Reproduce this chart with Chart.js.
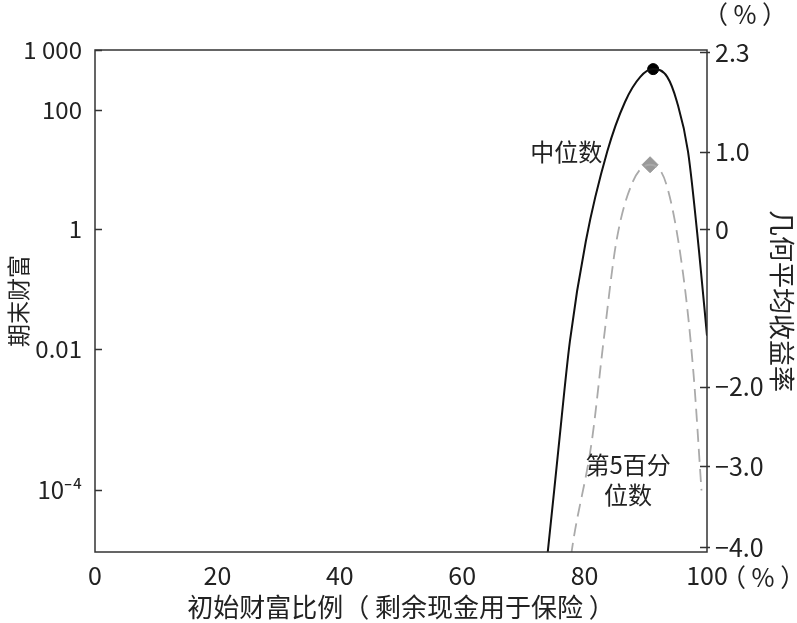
<!DOCTYPE html>
<html>
<head>
<meta charset="utf-8">
<script src="https://cdn.jsdelivr.net/npm/chart.js@4.4.0/dist/chart.umd.min.js"></script>
<style>
html, body { margin: 0; padding: 0; background: #fff; }
</style>
</head>
<body>
<canvas id="chart" width="797" height="623"></canvas>
<script>
// share of initial wealth kept (x, %) and log10 of terminal wealth
const median_x   = [73.5, 74.0, 75.7, 77.6, 80.2, 83.7, 86.6, 89.1, 91.2, 93.5, 95.1, 96.9, 98.7, 100];
const median_log = [-5.8, -5.38, -3.7, -1.87, -0.2, 1.3, 2.13, 2.55, 2.68, 2.55, 2.13, 1.3, -0.37, -1.78];
const p5_x   = [77.4, 77.9, 81.2, 83.1, 85.2, 87.9, 90.7, 93.4, 96.1, 97.8, 99.1];
const p5_log = [-5.8, -5.38, -3.53, -1.87, -0.2, 0.8, 1.08, 0.74, -0.75, -2.42, -4.37];
// peaks
const median_peak = [91.2, 2.68];
const p5_peak = [90.7, 1.08];

// left axis ticks (10^-4 sits lower in the original, kept where it is drawn)
const left_tick_values = [1000, 100, 1, 0.01, 4.3e-5];
const left_tick_labels = ['1 000', '100', '1', '0.01', '10⁻⁴'];
// right axis: geometric mean return over the horizon
const ret_ticks = [2.3, 1.0, 0, -2.0, -3.0, -4.0];
const ret_labels = ['2.3', '1.0', '0', '−2.0', '−3.0', '−4.0'];
const horizon_years = 300;

const x_ticks = [0, 20, 40, 60, 80, 100];

const FONT = '"Noto Sans CJK SC", "Noto Sans", sans-serif';
const y_min = Math.pow(10, -5.4);
const y_max = 1000;

const toPoints = (xs, logs) => xs.map((x, i) => ({x: x, y: Math.pow(10, logs[i])}));

// extra drawing: frame, inward ticks, text notes
const extras = {
  id: 'extras',
  afterDraw(chart) {
    const {ctx, chartArea: a, scales} = chart;
    ctx.save();
    ctx.strokeStyle = '#333';
    ctx.lineWidth = 1.5;
    ctx.strokeRect(a.left, a.top, a.right - a.left, a.bottom - a.top);
    ctx.beginPath();
    scales.y.ticks.forEach(t => {
      const py = Math.round(scales.y.getPixelForValue(t.value)) + 0.5;
      ctx.moveTo(a.left, py); ctx.lineTo(a.left + 7, py);
    });
    scales.y2.ticks.forEach(t => {
      const py = Math.round(scales.y2.getPixelForValue(t.value)) + 0.5;
      ctx.moveTo(a.right - 7, py); ctx.lineTo(a.right + 3, py);
    });
    ctx.stroke();

    ctx.fillStyle = '#222';
    ctx.textAlign = 'center';
    ctx.textBaseline = 'middle';
    ctx.font = '24px ' + FONT;
    const at = (x, lg) => [scales.x.getPixelForValue(x), scales.y.getPixelForValue(Math.pow(10, lg))];
    let p = at(77.0, 1.3);
    ctx.fillText('中位数', p[0], p[1]);
    p = at(87.1, -3.95);
    ctx.fillText('第5百分', p[0], p[1]);
    p = at(87.1, -4.45);
    ctx.fillText('位数', p[0], p[1]);
    ctx.font = '25px ' + FONT;
    ctx.fillText('（ % ）', 745, 14);
    ctx.textAlign = 'left';
    ctx.fillText('（ % ）', 721, scales.x.top + 25);
    ctx.restore();
  }
};

new Chart(document.getElementById('chart'), {
  type: 'line',
  data: {
    datasets: [
      {
        label: '中位数',
        data: toPoints(median_x, median_log),
        borderColor: '#111',
        borderWidth: 2,
        pointRadius: 0,
        cubicInterpolationMode: 'monotone',
        yAxisID: 'y'
      },
      {
        label: '第5百分位数',
        data: toPoints(p5_x, p5_log),
        borderColor: '#aaa',
        borderWidth: 1.8,
        borderDash: [13, 7],
        pointRadius: 0,
        cubicInterpolationMode: 'monotone',
        yAxisID: 'y'
      },
      {
        type: 'scatter',
        data: [{x: median_peak[0], y: Math.pow(10, median_peak[1])}],
        pointStyle: 'circle',
        pointRadius: 5.5,
        backgroundColor: '#000',
        borderColor: '#000',
        yAxisID: 'y'
      },
      {
        type: 'scatter',
        data: [{x: p5_peak[0], y: Math.pow(10, p5_peak[1])}],
        pointStyle: 'rectRot',
        pointRadius: 8,
        backgroundColor: '#999',
        borderColor: '#999',
        yAxisID: 'y'
      }
    ]
  },
  options: {
    responsive: false,
    animation: false,
    devicePixelRatio: 1,
    layout: {padding: {top: 50, left: 0, right: 0, bottom: 0}},
    plugins: {legend: {display: false}, tooltip: {enabled: false}},
    scales: {
      x: {
        type: 'linear',
        min: 0,
        max: 100,
        afterBuildTicks: s => { s.ticks = x_ticks.map(v => ({value: v})); },
        ticks: {font: {family: FONT, size: 25}, color: '#222', padding: 8, maxRotation: 0},
        grid: {display: false, drawTicks: false},
        border: {display: false},
        title: {display: true, text: '初始财富比例（ 剩余现金用于保险 ）', font: {family: FONT, size: 26}, color: '#222', padding: {top: 0, bottom: 0}},
        afterFit: s => { s.height = 71; }
      },
      y: {
        type: 'logarithmic',
        position: 'left',
        min: y_min,
        max: y_max,
        afterBuildTicks: s => { s.ticks = left_tick_values.map(v => ({value: v})); },
        ticks: {callback: (v, i) => left_tick_labels[i], font: {family: FONT, size: 24}, color: '#222', padding: 13, autoSkip: false},
        grid: {display: false, drawTicks: false},
        border: {display: false},
        title: {display: true, text: '期末财富', font: {family: FONT, size: 23}, color: '#222', padding: 4},
        afterFit: s => { s.width = 95; }
      },
      y2: {
        type: 'logarithmic',
        position: 'right',
        min: y_min,
        max: y_max,
        afterBuildTicks: s => { s.ticks = ret_ticks.map(g => ({value: Math.pow(1 + g / 100, horizon_years)})); },
        ticks: {callback: (v, i) => ret_labels[i], font: {family: FONT, size: 25}, color: '#222', padding: 8, autoSkip: false},
        grid: {display: false, drawTicks: false},
        border: {display: false},
        title: {display: true, text: '几何平均收益率', font: {family: FONT, size: 26}, color: '#222', padding: 0},
        afterFit: s => { s.width = 90; }
      }
    }
  },
  plugins: [extras]
});
</script>
</body>
</html>
